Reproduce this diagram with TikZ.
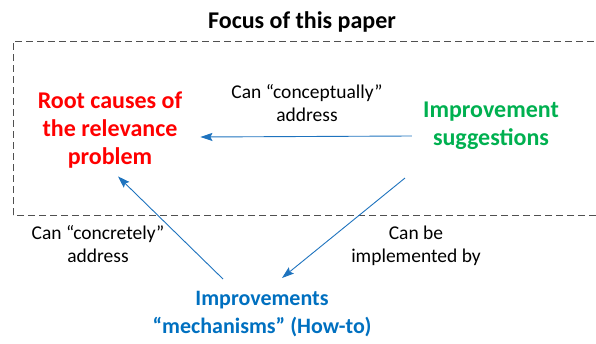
\documentclass[tikz,border=0pt]{standalone}
\usepackage{fontspec}
\setmainfont{Carlito}
\usetikzlibrary{arrows.meta,calc}

\definecolor{rootred}{RGB}{255,0,0}
\definecolor{suggreen}{RGB}{0,176,80}
\definecolor{mechblue}{RGB}{0,112,192}
\definecolor{linkblue}{RGB}{30,115,190}
\definecolor{boxgray}{RGB}{80,80,80}

\tikzset{
  bigtext/.style={align=center, inner sep=0pt, font=\fontsize{24}{28}\selectfont\bfseries},
  smalltext/.style={align=center, inner sep=0pt, font=\fontsize{19.5}{23.5}\selectfont},
  link/.style={draw=linkblue, line width=0.9pt, -{Stealth[length=12pt,width=8pt,inset=2pt]}}
}

\begin{document}
\begin{tikzpicture}[x=1pt,y=1pt]
\useasboundingbox (0,0) rectangle (596,343);

% focus box
\draw[boxgray, line width=0.9pt, dash pattern=on 7pt off 4pt] (13,128) rectangle (620,302);
\node[bigtext, anchor=base] (title) at (302,314) {Focus of this paper};

% the three parts
\node[bigtext, text=rootred] (root) at (110,213) {Root causes of\\the relevance\\problem};
\node[bigtext, text=suggreen] (sugg) at (491,217) {Improvement\\suggestions};
\node[bigtext, text=mechblue, font=\fontsize{22}{28}\selectfont\bfseries] (mech) at (262,29) {Improvements\\``mechanisms'' (How-to)};

% labels
\node[smalltext] (conc) at (307,240) {Can ``conceptually''\\address};
\node[smalltext] (concr) at (98,99) {Can ``concretely''\\address};
\node[smalltext] (impl) at (416,97) {Can be\\implemented by};

% arrows
\draw[link] ($(sugg.west)+(-11,-10)$) -- ($(root.east)+(18,-7)$);
\draw[link] ($(mech.north)+(-39,12)$) -- ($(root.south)+(8,-8)$);
\draw[link] ($(sugg.south)+(-86,-28)$) -- ($(mech.north)+(20,13)$);
\end{tikzpicture}
\end{document}
